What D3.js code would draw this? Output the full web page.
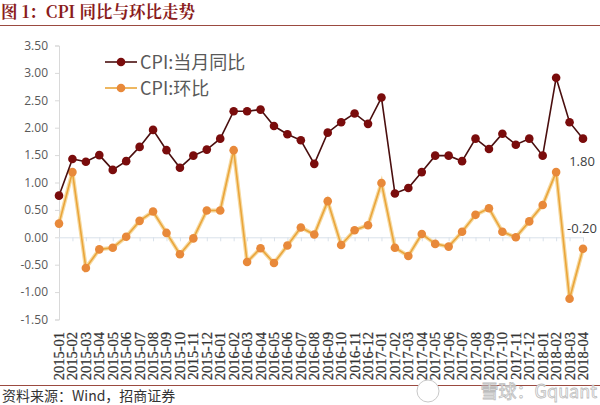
<!DOCTYPE html>
<html>
<head>
<meta charset="utf-8">
<script src="https://cdn.jsdelivr.net/npm/d3@7"></script>
<style>
  body { margin: 0; background: #fff; }
  svg { display: block; }
</style>
</head>
<body>
<div id="chart"></div>
<script>
// months 2015-01 .. 2018-04
var months = [];
[2015, 2016, 2017, 2018].forEach(function(y) {
    for (var m = 1; m <= 12; m++) {
        if (y === 2018 && m > 4) break;
        months.push(y + "-" + (m < 10 ? "0" + m : m));
    }
});

// CPI:当月同比
var yoy = [0.76, 1.43, 1.38, 1.50, 1.23, 1.39, 1.65, 1.96, 1.59, 1.27, 1.49, 1.60,
           1.80, 2.30, 2.30, 2.33, 2.03, 1.88, 1.77, 1.34, 1.91, 2.10, 2.26, 2.07,
           2.55, 0.80, 0.90, 1.19, 1.49, 1.49, 1.39, 1.80, 1.61, 1.89, 1.69, 1.80,
           1.49, 2.91, 2.10, 1.80];

// CPI:环比
var mom = [0.25, 1.19, -0.56, -0.22, -0.19, 0.01, 0.30, 0.47, 0.08, -0.31, -0.02, 0.49,
           0.49, 1.59, -0.45, -0.20, -0.47, -0.15, 0.18, 0.05, 0.66, -0.14, 0.13, 0.22,
           0.99, -0.19, -0.34, 0.06, -0.12, -0.17, 0.10, 0.41, 0.53, 0.10, 0.00, 0.29,
           0.59, 1.19, -1.12, -0.21];

var yTicks = [3.5, 3.0, 2.5, 2.0, 1.5, 1.0, 0.5, 0.0, -0.5, -1.0, -1.5];

var width = 600, height = 405;

var svg = d3.select("#chart").append("svg")
    .attr("width", width)
    .attr("height", height);

/* title */
svg.append("text")
    .attr("x", 1).attr("y", 18)
    .attr("font-family", "'Noto Serif CJK SC', 'Liberation Serif', 'Noto Sans CJK SC', serif")
    .attr("font-weight", "bold")
    .attr("font-size", 16.5)
    .attr("fill", "#8a1c1c")
    .text("图 1：CPI 同比与环比走势");

svg.append("line")
    .attr("x1", 0).attr("x2", width)
    .attr("y1", 25.5).attr("y2", 25.5)
    .attr("stroke", "#9b4a40").attr("stroke-width", 1.2);

svg.append("line")
    .attr("x1", 0).attr("x2", width)
    .attr("y1", 385.5).attr("y2", 385.5)
    .attr("stroke", "#9b4a40").attr("stroke-width", 1.2);

svg.append("text")
    .attr("x", 2).attr("y", 401)
    .attr("font-family", "'Noto Sans CJK SC', sans-serif")
    .attr("font-size", 14)
    .attr("fill", "#333")
    .text("资料来源：Wind，招商证券");

/* scales */
var x = d3.scalePoint()
    .domain(months)
    .range([59, 583]);

var y = d3.scaleLinear()
    .domain([-1.5, 3.5])
    .range([319.5, 45.5]);

/* y axis */
var yAxis = svg.append("g")
    .attr("transform", "translate(59,0)")
    .call(d3.axisLeft(y).tickValues(yTicks).tickFormat(d3.format(".2f")).tickSize(4));
yAxis.select(".domain").attr("stroke", "#d9d9d9");
yAxis.selectAll(".tick line").attr("stroke", "#d9d9d9");
yAxis.selectAll(".tick text")
    .attr("x", -11)
    .attr("font-family", "'Open Sans', 'DejaVu Sans', sans-serif")
    .attr("font-size", 12)
    .attr("fill", "#595959")
    .text(function(d) { return d3.format(".2f")(d).replace("−", "-"); });

/* x axis at zero */
var xAxis = svg.append("g")
    .attr("transform", "translate(0," + y(0) + ")")
    .call(d3.axisBottom(x).tickSize(4).tickFormat(""));
xAxis.select(".domain").attr("stroke", "#d9e1ea");
xAxis.selectAll(".tick line").attr("stroke", "#d9e1ea");

/* rotated month labels */
svg.append("g")
    .selectAll("text")
    .data(months)
    .enter().append("text")
        .attr("transform", function(d) { return "translate(" + (x(d) + 5) + ",332) rotate(-90)"; })
        .attr("text-anchor", "end")
        .attr("font-family", "'Liberation Serif', 'Times New Roman', serif")
        .attr("font-size", 14.5)
        .attr("fill", "#333")
        .attr("stroke", "#333")
        .attr("stroke-width", 0.25)
        .text(function(d) { return d; });

/* lines */
var line = d3.line()
    .x(function(d, i) { return x(months[i]); })
    .y(function(d) { return y(d); });

svg.append("path")
    .datum(mom)
    .attr("d", line)
    .attr("fill", "none")
    .attr("stroke", "#f6d9a0")
    .attr("stroke-width", 4);
svg.append("path")
    .datum(mom)
    .attr("d", line)
    .attr("fill", "none")
    .attr("stroke", "#eaa53a")
    .attr("stroke-width", 1.6);
svg.append("g")
    .selectAll("circle")
    .data(mom)
    .enter().append("circle")
        .attr("cx", function(d, i) { return x(months[i]); })
        .attr("cy", function(d) { return y(d); })
        .attr("r", 4.3)
        .attr("fill", "#e8893a");

svg.append("path")
    .datum(yoy)
    .attr("d", line)
    .attr("fill", "none")
    .attr("stroke", "#4a0f0f")
    .attr("stroke-width", 1.6);
svg.append("g")
    .selectAll("circle")
    .data(yoy)
    .enter().append("circle")
        .attr("cx", function(d, i) { return x(months[i]); })
        .attr("cy", function(d) { return y(d); })
        .attr("r", 4.3)
        .attr("fill", "#7a0c0c");

/* end labels */
var last = months.length - 1;
svg.append("text")
    .attr("x", x(months[last]) - 1).attr("y", y(yoy[last]) + 27)
    .attr("text-anchor", "middle")
    .attr("font-family", "'Open Sans', 'DejaVu Sans', sans-serif")
    .attr("font-size", 13)
    .attr("fill", "#404040")
    .text("1.80");
svg.append("text")
    .attr("x", x(months[last]) - 1).attr("y", y(mom[last]) - 16)
    .attr("text-anchor", "middle")
    .attr("font-family", "'Open Sans', 'DejaVu Sans', sans-serif")
    .attr("font-size", 13)
    .attr("fill", "#404040")
    .text("-0.20");

/* legend */
var legend = [
    { name: "CPI:当月同比", color: "#7a0c0c", line: "#4a0f0f" },
    { name: "CPI:环比", color: "#e8893a", line: "#eaa53a" }
];
var lg = svg.append("g")
    .selectAll("g")
    .data(legend)
    .enter().append("g")
        .attr("transform", function(d, i) { return "translate(105," + (62 + i * 26) + ")"; });
lg.append("line")
    .attr("x1", 0).attr("x2", 32)
    .attr("stroke", function(d) { return d.line; })
    .attr("stroke-width", 1.6);
lg.append("circle")
    .attr("cx", 16).attr("r", 4.3)
    .attr("fill", function(d) { return d.color; });
lg.append("text")
    .attr("x", 35).attr("y", 6.5)
    .attr("font-family", "'Noto Sans CJK SC', sans-serif")
    .attr("font-size", 18)
    .attr("fill", "#595959")
    .text(function(d) { return d.name; });

/* watermark */
svg.append("circle")
    .attr("cx", 428).attr("cy", 391).attr("r", 11)
    .attr("fill", "#fff")
    .attr("stroke", "#c8c8c8")
    .attr("stroke-width", 1);
svg.append("text")
    .attr("x", 597).attr("y", 398)
    .attr("text-anchor", "end")
    .attr("font-family", "'Noto Sans CJK SC', sans-serif")
    .attr("font-size", 18)
    .attr("fill", "#ffffff")
    .attr("stroke", "#bdbdbd")
    .attr("stroke-width", 0.8)
    .text("雪球：Gquant");
</script>
</body>
</html>
